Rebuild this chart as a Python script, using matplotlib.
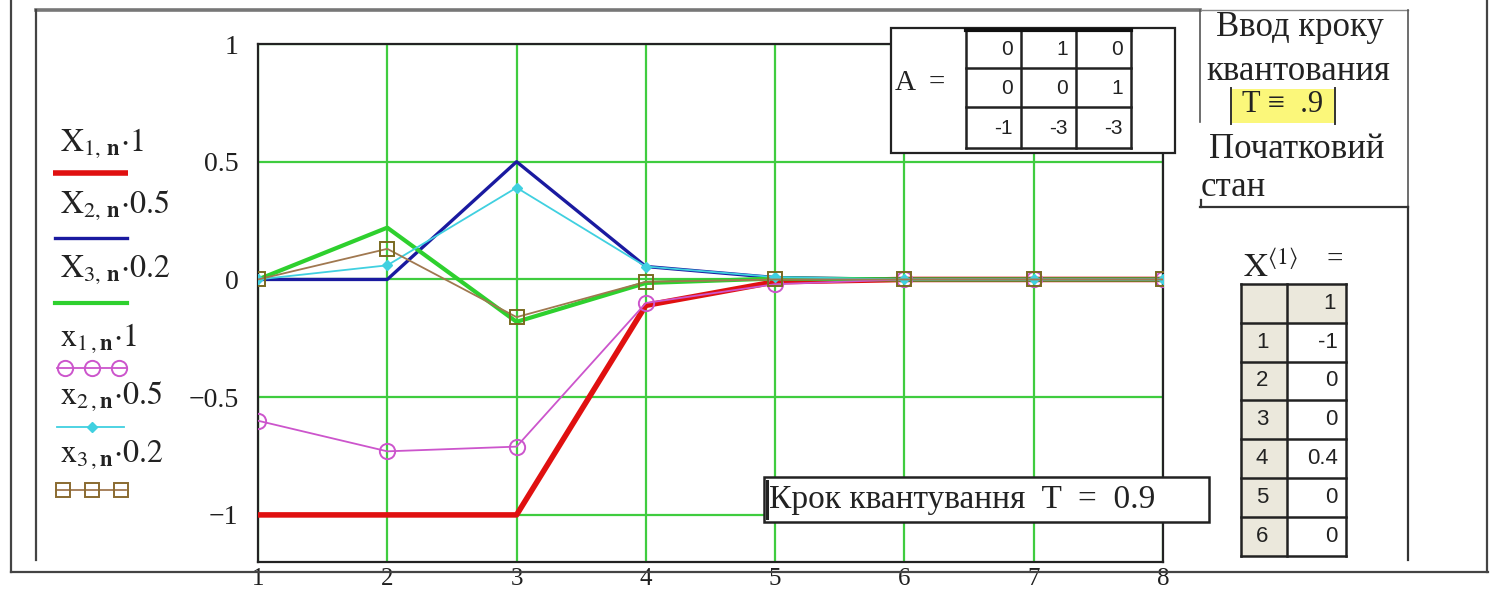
import matplotlib
matplotlib.use("Agg")
import matplotlib.pyplot as plt
from matplotlib.patches import Rectangle
from matplotlib.lines import Line2D

plt.rcParams['font.family'] = ['Liberation Serif', 'DejaVu Serif']
plt.rcParams['mathtext.fontset'] = 'stix'

# ---------------- data ----------------
n = [1, 2, 3, 4, 5, 6, 7, 8]
X1 = [-1.0, -1.0, -1.0, -0.11, -0.01, 0.0, 0.0, 0.0]
X2 = [0.0, 0.0, 0.5, 0.055, 0.008, 0.0, 0.0, 0.0]
X3 = [0.0, 0.22, -0.18, -0.015, 0.004, 0.0, 0.0, 0.0]
x1 = [-0.6, -0.73, -0.71, -0.1, -0.02, 0.0, 0.0, 0.0]
x2 = [0.0, 0.06, 0.39, 0.055, 0.01, 0.0, 0.0, 0.0]
x3 = [0.0, 0.13, -0.16, -0.01, 0.0, 0.0, 0.0, 0.0]

yticks = [1, 0.5, 0, -0.5, -1]
ytick_labels = ["1", "0.5", "0", "\u22120.5", "\u22121"]
xticks = n

legend_labels = [r"$\mathrm{X}_{1,\,\mathbf{n}}{\cdot}1$",
                 r"$\mathrm{X}_{2,\,\mathbf{n}}{\cdot}0.5$",
                 r"$\mathrm{X}_{3,\,\mathbf{n}}{\cdot}0.2$",
                 r"$\mathrm{x}_{1\,,\mathbf{n}}{\cdot}1$",
                 r"$\mathrm{x}_{2\,,\mathbf{n}}{\cdot}0.5$",
                 r"$\mathrm{x}_{3\,,\mathbf{n}}{\cdot}0.2$"]

A_matrix = [["0", "1", "0"],
            ["0", "0", "1"],
            ["-1", "-3", "-3"]]
X0_index = ["1", "2", "3", "4", "5", "6"]
X0_values = ["-1", "0", "0", "0.4", "0", "0"]

step_text = "Крок квантування  T  =  0.9"
right_lines = ["Ввод кроку", "квантования", "Початковий", "стан"]

# ---------------- figure ----------------
W, H = 1491, 592
fig = plt.figure(figsize=(W / 100, H / 100), dpi=100)
fig.patch.set_facecolor("white")

ax = fig.add_axes([258 / W, 1 - 562 / H, (1163 - 258) / W, (562 - 44) / H])
ax.set_xlim(1, 8)
ax.set_ylim(-1.2, 1.0)
ax.set_xticks(xticks)
ax.set_xticklabels([str(v) for v in xticks])
ax.set_yticks(yticks)
ax.set_yticklabels(ytick_labels)
ax.tick_params(length=0, labelsize=20, pad=14)
ax.tick_params(axis='x', pad=4, labelsize=18)
for t in ax.get_xticklabels() + ax.get_yticklabels():
    t.set_color("#202020")
ax.grid(True, color="#3fcc3f", lw=1.6, zorder=0)
for s in ax.spines.values():
    s.set_color("#222222")
    s.set_linewidth(1.6)

ax.plot(n, X1, color="#e01010", lw=4.0, zorder=3, solid_capstyle='butt')
ax.plot(n, X2, color="#1a1aa0", lw=2.4, zorder=3)
ax.plot(n, X3, color="#2ed02e", lw=3.0, zorder=3)
ax.plot(n, x1, color="#cc55cc", lw=1.3, marker='o', ms=11, mfc='none',
        mec="#cc55cc", mew=1.4, zorder=4)
ax.plot(n, x2, color="#40d0e0", lw=1.3, marker='D', ms=5, mfc="#40d0e0",
        mec="#40d0e0", zorder=4)
ax.plot(n, x3, color="#a07850", lw=1.3, marker='s', ms=10, mfc='none',
        mec="#7a6a20", mew=1.4, zorder=4)

# ---------------- overlay (decorations in pixel coords) ----------------
ov = fig.add_axes([0, 0, 1, 1], zorder=10)
ov.set_xlim(0, W)
ov.set_ylim(H, 0)
ov.axis('off')
ov.patch.set_alpha(0)

def hline(x0, x1_, y, c="#333333", lw=1.5):
    ov.add_line(Line2D([x0, x1_], [y, y], color=c, lw=lw))

def vline(x, y0, y1, c="#333333", lw=1.5):
    ov.add_line(Line2D([x, x], [y0, y1], color=c, lw=lw))

# outer frames
vline(11, 0, 572, "#444444", 1.6)
hline(11, 1488, 572, "#444444", 1.6)
vline(1487, 0, 572, "#444444", 1.6)
hline(36, 1200, 10, "#777777", 2.6)
vline(36, 10, 560, "#444444", 1.6)

# right text box
hline(1200, 1408, 10, "#888888", 1.0)
vline(1408, 10, 207, "#555555", 1.2)
vline(1200, 10, 122, "#555555", 1.2)
hline(1200, 1408, 207, "#333333", 1.6)
vline(1201, 200, 207, "#333333", 1.6)
vline(1408, 207, 560, "#333333", 1.6)

fs_big = 25
ov.text(1300, 28, right_lines[0], ha='center', va='center', fontsize=fs_big, color="#222222")
ov.text(1298, 72, right_lines[1], ha='center', va='center', fontsize=fs_big, color="#222222")
ov.add_patch(Rectangle((1230, 89), 106, 34, facecolor="#fbf77a", edgecolor='none'))
vline(1231, 88, 124, "#333333", 1.4)
vline(1335, 88, 124, "#333333", 1.4)
ov.text(1283, 105, "T \u2261  .9", ha='center', va='center', fontsize=22,
        family=['Liberation Serif', 'DejaVu Serif'], color="#222222")
ov.text(1297, 149, right_lines[2], ha='center', va='center', fontsize=fs_big, color="#222222")
ov.text(1201, 187, right_lines[3], ha='left', va='center', fontsize=fs_big, color="#222222")

# matrix A box
ov.add_patch(Rectangle((891, 28), 284, 125, facecolor="white", edgecolor="#222222", lw=1.6))
ov.text(895, 83, "A  =", ha='left', va='center', fontsize=21, color="#222222")
cols = [966, 1021, 1076, 1131]
rows = [29, 68, 107, 148]
for c in cols:
    vline(c, rows[0], rows[-1], "#222222", 1.8)
for r in rows:
    hline(cols[0], cols[-1], r, "#222222", 1.8)
hline(cols[0], cols[-1], rows[0] + 1, "#111111", 3.0)
for i in range(3):
    for j in range(3):
        ov.text(cols[j + 1] - 8, (rows[i] + rows[i + 1]) / 2 + 1, A_matrix[i][j],
                ha='right', va='center', fontsize=15, family='Liberation Sans', color="#222222")

# X^<1> table
ov.text(1243, 268, r"$\mathrm{X}^{\langle 1\rangle}$", ha='left', va='center', fontsize=24, color="#222222")
ov.text(1326, 260, "=", ha='left', va='center', fontsize=21, color="#222222")
tx0, tx1, tx2 = 1241, 1287, 1346
ty = [284 + 38.8 * k for k in range(8)]
beige = "#ebe8dc"
ov.add_patch(Rectangle((tx0, ty[0]), tx2 - tx0, ty[-1] - ty[0], facecolor="white", edgecolor='none'))
ov.add_patch(Rectangle((tx0, ty[0]), tx2 - tx0, ty[1] - ty[0], facecolor=beige, edgecolor='none'))
ov.add_patch(Rectangle((tx0, ty[0]), tx1 - tx0, ty[-1] - ty[0], facecolor=beige, edgecolor='none'))
for x in (tx0, tx1, tx2):
    vline(x, ty[0], ty[-1], "#222222", 1.8)
for y in ty:
    hline(tx0, tx2, y, "#222222", 1.8)
ov.text(tx2 - 10, (ty[0] + ty[1]) / 2, "1", ha='right', va='center', fontsize=16,
        family='Liberation Sans', color="#222222")
for k in range(6):
    yc = (ty[k + 1] + ty[k + 2]) / 2
    ov.text((tx0 + tx1) / 2 - 2, yc, X0_index[k], ha='center', va='center', fontsize=16,
            family='Liberation Sans', color="#222222")
    ov.text(tx2 - 8, yc, X0_values[k], ha='right', va='center', fontsize=16,
            family='Liberation Sans', color="#222222")

# step box
ov.add_patch(Rectangle((764, 477), 445, 45, facecolor="white", edgecolor="#222222", lw=1.8))
vline(767, 481, 518, "#222222", 2.2)
ov.text(769, 500, step_text, ha='left', va='center', fontsize=24, color="#222222")

# legend
ly_text = [143, 205, 270, 338, 396, 455]
for lbl, yv in zip(legend_labels, ly_text):
    ov.text(60, yv, lbl, ha='left', va='center', fontsize=23, color="#222222")
ov.add_line(Line2D([53, 128], [173, 173], color="#e01010", lw=4.0, solid_capstyle='butt'))
ov.add_line(Line2D([55, 127], [238, 238], color="#1a1aa0", lw=2.4))
ov.add_line(Line2D([55, 127], [303, 303], color="#2ed02e", lw=3.0))
ov.add_line(Line2D([57, 127], [368, 368], color="#cc55cc", lw=1.3))
ov.add_line(Line2D([65, 92, 119], [368, 368, 368], color="none", marker='o', ms=11,
                   mfc='none', mec="#cc55cc", mew=1.4))
ov.add_line(Line2D([57, 124], [427, 427], color="#40d0e0", lw=1.3))
ov.add_line(Line2D([92], [427], color="none", marker='D', ms=5, mfc="#40d0e0", mec="#40d0e0"))
ov.add_line(Line2D([57, 126], [490, 490], color="#a07850", lw=1.3))
ov.add_line(Line2D([63, 92, 121], [490, 490, 490], color="none", marker='s', ms=10,
                   mfc='none', mec="#8a6a30", mew=1.4))

fig.savefig("out.png", dpi=100)
